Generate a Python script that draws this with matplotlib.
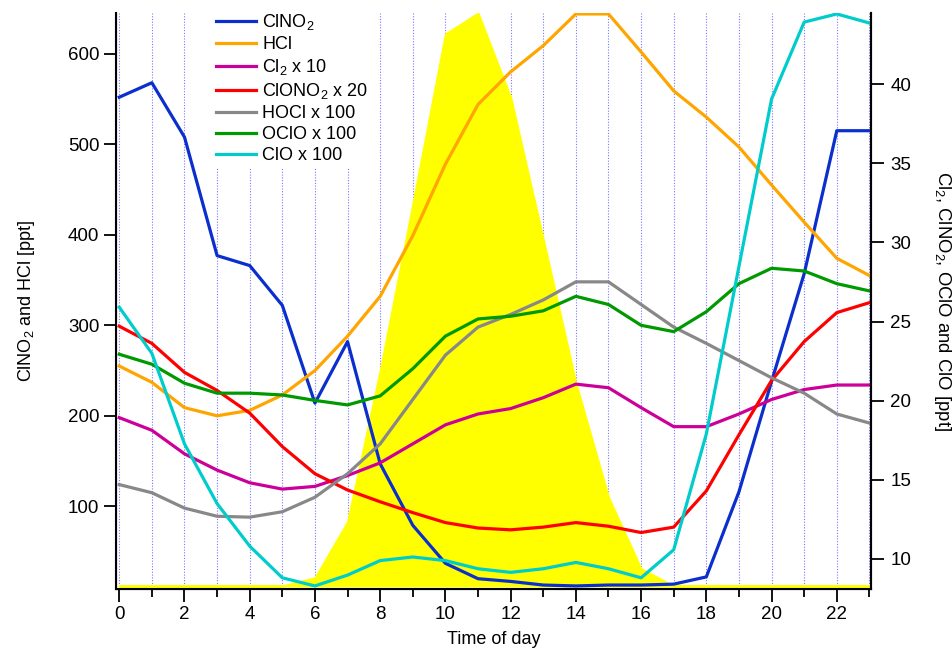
import numpy as np
import matplotlib
matplotlib.use('Agg')
import matplotlib.pyplot as plt
from matplotlib.ticker import MultipleLocator

plt.rcParams['font.family'] = ['Liberation Sans', 'DejaVu Sans']
plt.rcParams['mathtext.fontset'] = 'custom'
plt.rcParams['mathtext.rm'] = 'Liberation Sans'
plt.rcParams['mathtext.it'] = 'Liberation Sans:italic'

hours = np.arange(24)

clno2 = [552, 568, 508, 377, 366, 322, 214, 282, 147, 79, 37, 20, 17, 13,
         12, 13, 13, 14, 22, 116, 238, 357, 515, 515]
hcl = [255, 237, 209, 200, 206, 223, 250, 288, 332, 399, 478, 544, 580, 609,
       644, 644, 602, 559, 530, 497, 455, 414, 374, 355]
cl2_x10 = [198, 184, 158, 140, 126, 119, 122, 134, 148, 169, 190, 202, 208, 220,
           235, 231, 209, 188, 188, 202, 218, 229, 234, 234]
clono2_x20 = [299, 280, 248, 228, 203, 166, 136, 118, 105, 93, 82, 76, 74, 77,
              82, 78, 71, 77, 117, 179, 239, 282, 314, 325]
hocl_x100 = [124, 115, 98, 89, 88, 94, 110, 136, 169, 218, 267, 298, 312, 328,
             348, 348, 323, 298, 280, 261, 242, 225, 202, 192]
oclo_x100 = [268, 257, 236, 225, 225, 223, 217, 212, 222, 252, 288, 307, 310, 316,
             332, 323, 300, 293, 315, 346, 363, 360, 346, 338]
clo_x100 = [320, 269, 169, 103, 56, 21, 12, 24, 40, 44, 40, 31, 27, 31,
            38, 31, 21, 52, 180, 365, 550, 635, 644, 634]
sunlight = [12, 12, 12, 12, 12, 12, 21, 83, 250, 434, 622, 645, 552, 395,
            236, 110, 31, 12, 12, 12, 12, 12, 12, 12]
sun_base = 12

series = [
    (clno2, 'ClNO$_2$', '#0a2fcc'),
    (hcl, 'HCl', '#ffa500'),
    (cl2_x10, 'Cl$_2$ x 10', '#cc0099'),
    (clono2_x20, 'ClONO$_2$ x 20', '#ff0000'),
    (hocl_x100, 'HOCl x 100', '#888888'),
    (oclo_x100, 'OClO x 100', '#009900'),
    (clo_x100, 'ClO x 100', '#00cccc'),
]

fig = plt.figure(figsize=(9.53, 6.56), dpi=100)
ax = fig.add_axes([0.1217, 0.1021, 0.7923, 0.878])

# sunlight shading
ax.fill_between(hours, sun_base, sunlight, color='#ffff00', edgecolor='#ffff00',
                linewidth=1.5, zorder=1)

for h in hours:
    ax.axvline(h, color='#5555ff', linestyle=(0, (1, 1.5)), linewidth=0.8,
               alpha=0.8, zorder=0.5)

for vals, label, color in series:
    ax.plot(hours, vals, color=color, linewidth=2.3, label=label, zorder=3)

ax.set_xlim(-0.1, 23.05)
ax.set_ylim(8.6, 645)
ax.xaxis.set_major_locator(MultipleLocator(2))
ax.xaxis.set_minor_locator(MultipleLocator(1))
ax.set_yticks([100, 200, 300, 400, 500, 600])

for side in ['left', 'bottom', 'right']:
    ax.spines[side].set_linewidth(1.5)
ax.spines['top'].set_visible(False)
ax.tick_params(axis='both', which='major', direction='out', length=9, width=1.3,
               labelsize=13.5, pad=3)
ax.tick_params(axis='x', which='minor', direction='out', length=5.5, width=1.3)

ax.set_xlabel('Time of day', fontsize=13, labelpad=6)
ax.set_ylabel('ClNO$_2$ and HCl [ppt]', fontsize=13, labelpad=22)

ax2 = ax.twinx()
ax2.set_ylim(8.1, 44.5)
ax2.set_yticks([10, 15, 20, 25, 30, 35, 40])
ax2.spines['top'].set_visible(False)
ax2.spines['right'].set_linewidth(1.5)
ax2.tick_params(axis='y', direction='out', length=9, width=1.3, labelsize=13.5, pad=5)
ax2.set_ylabel('Cl$_2$, ClNO$_2$, OClO and ClO [ppt]', fontsize=13.3,
               rotation=270, labelpad=30)

leg = ax.legend(loc='upper left', bbox_to_anchor=(0.128, 1.008), fontsize=13,
                frameon=True, fancybox=False, edgecolor='none', facecolor='white',
                framealpha=1, handlelength=2.2, handletextpad=0.35,
                labelspacing=0.22, borderpad=0.2, borderaxespad=0)
leg.set_zorder(5)

fig.savefig('out.png', dpi=100)
